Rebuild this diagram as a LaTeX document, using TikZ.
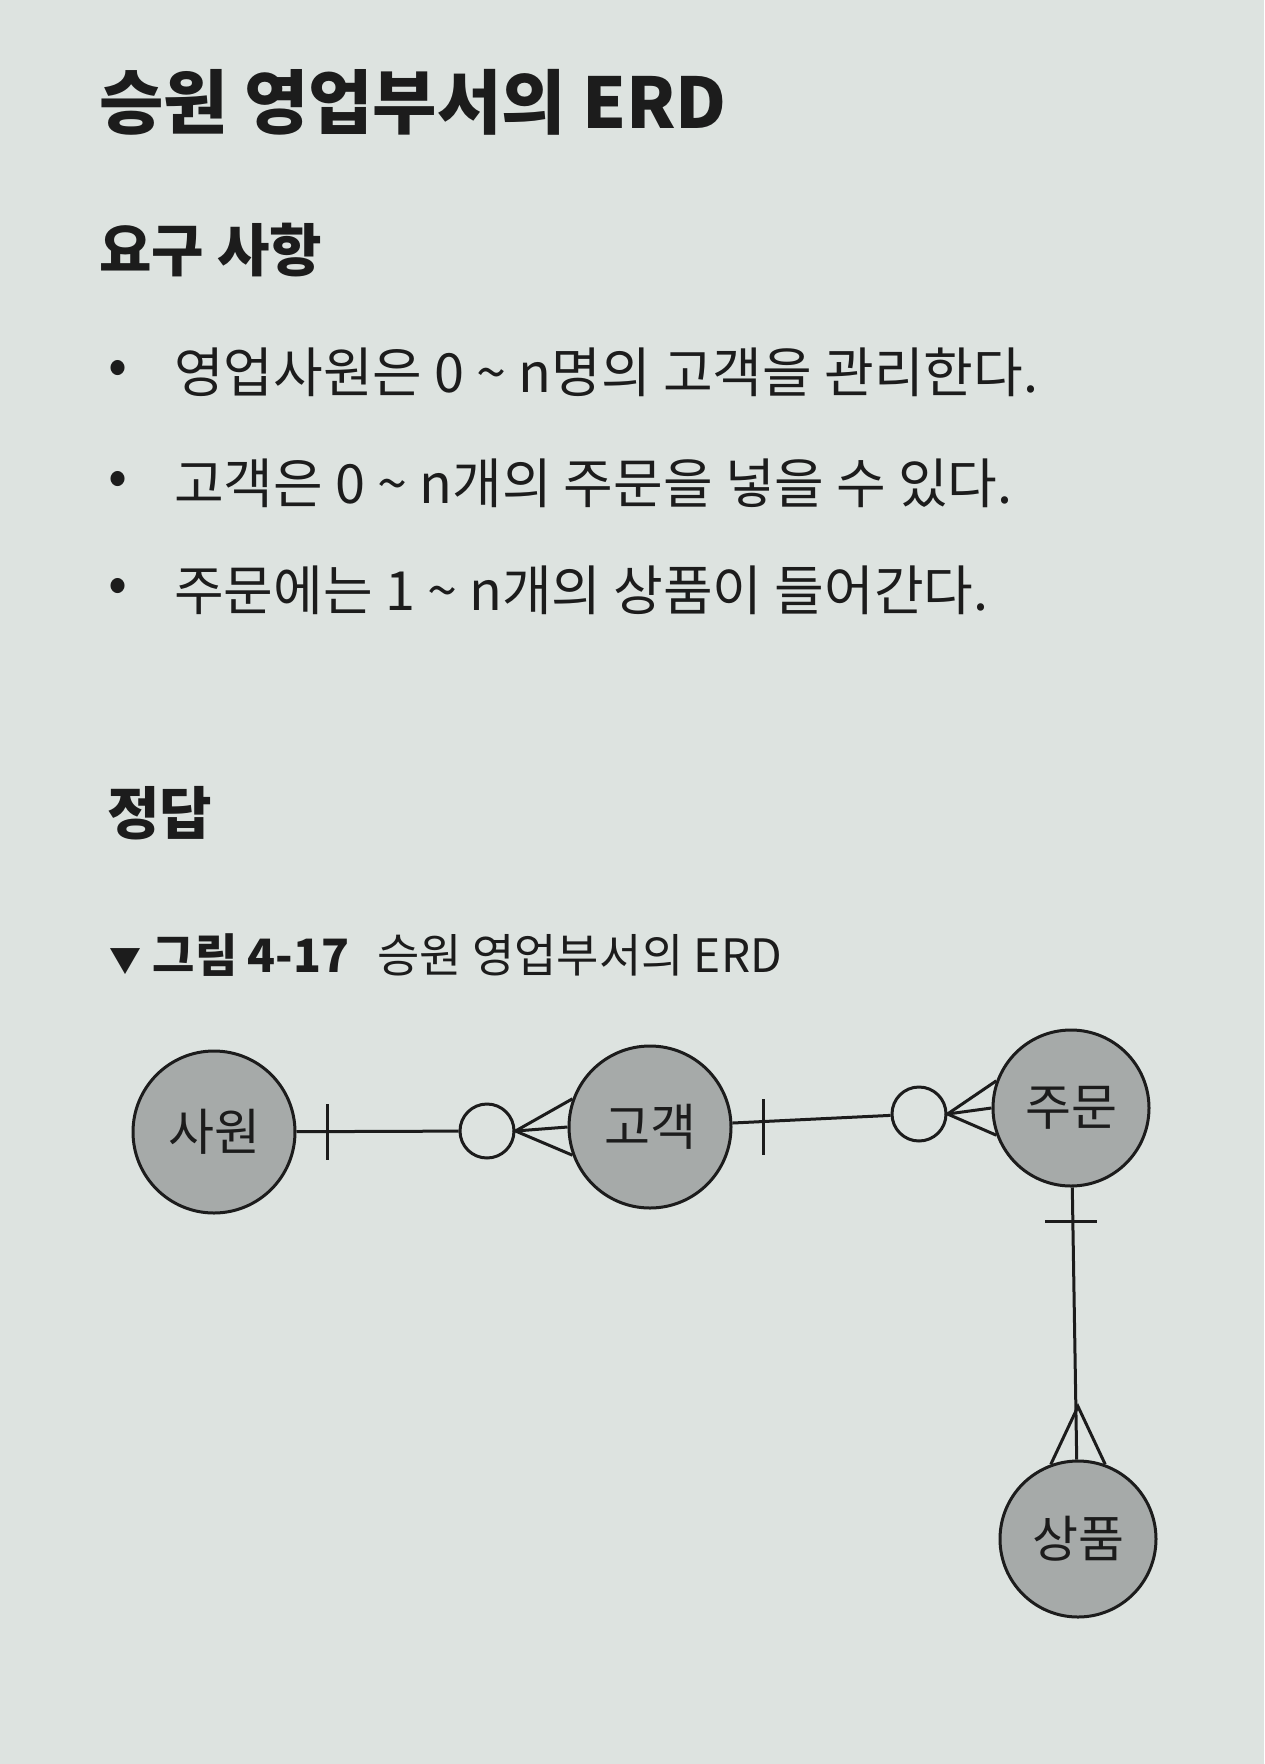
\documentclass[tikz,border=0pt]{standalone}
\usepackage{fontspec}
\setmainfont{Noto Sans CJK KR}
\usepackage{tikz}
\usetikzlibrary{calc,positioning}
\definecolor{paper}{RGB}{221,227,224}
\definecolor{entgray}{RGB}{166,170,169}
\definecolor{ink}{RGB}{28,28,28}

\begin{document}
\begin{tikzpicture}[x=1pt, y=-1pt,
  txt/.style={anchor=west, inner sep=0pt, text=ink},
  head/.style={txt, font=\fontsize{57}{60}\selectfont\bfseries},
  req/.style={txt, font=\fontsize{54}{58}\selectfont},
  dot/.style={inner sep=0pt, text=ink, font=\fontsize{56}{58}\selectfont},
  ent/.style={draw=ink, circle, line width=3pt, fill=entgray, minimum size=162pt,
              inner sep=0pt, text=ink, font=\fontsize{50}{54}\selectfont},
  zero/.style={draw=ink, circle, line width=3pt, fill=paper, minimum size=54pt, inner sep=0pt},
  rel/.style={draw=ink, line width=3pt}]
  \fill[paper] (0,0) rectangle (1264,1764);
  \useasboundingbox (0,0) rectangle (1264,1764);
  \node[txt, font=\fontsize{70}{74}\selectfont\bfseries] (title) at (99,102) {승원 영업부서의 ERD};
  \node[head] (reqhead) at (99,250) {요구 사항};
  \node[req] (req1) at (174,372) {영업사원은 0 \textasciitilde{} n명의 고객을 관리한다.};
  \node[req] (req2) at (174,483) {고객은 0 \textasciitilde{} n개의 주문을 넣을 수 있다.};
  \node[req] (req3) at (174,590) {주문에는 1 \textasciitilde{} n개의 상품이 들어간다.};
  \node[dot, left=46pt of req1] (dot1) {•};
  \node[dot, left=46pt of req2] (dot2) {•};
  \node[dot, left=46pt of req3] (dot3) {•};
  \node[head] (answer) at (107,813) {정답};
  \node[txt, font=\fontsize{46}{50}\selectfont] (caption) at (109,955)
       {{\fontsize{32}{34}\selectfont ▼}\hspace{0.25em}{\bfseries 그림 4-17}\hspace{0.6em}승원 영업부서의 ERD};
  \node[ent] (sawon) at (214,1132) {사원};
  \node[ent] (gogaek) at (650,1127) {고객};
  \node[ent, minimum size=156pt] (jumun) at (1071,1108) {주문};
  \node[ent, minimum size=156pt] (sangpum) at (1078,1539) {상품};
  \node[zero] (z1) at (487,1131) {};
  \node[zero] (z2) at (919,1114) {};
  \draw[rel] (sawon) -- (z1);
  \draw[rel] ($(sawon.east)+(31,-28)$) -- ++(0,56);
  \draw[rel] (z1.east) -- (gogaek.west);
  \draw[rel] (gogaek.160) -- (z1.east) -- (gogaek.200);
  \draw[rel] (gogaek) -- (z2);
  \draw[rel] ($(gogaek.east)+(31,-28)$) -- ++(0,56);
  \draw[rel] (z2.east) -- (jumun.west);
  \draw[rel] (jumun.160) -- (z2.east) -- (jumun.200);
  \draw[rel] (jumun) -- (sangpum);
  \draw[rel] ($(jumun.south)+(-26,34)$) -- ++(52,0);
  \coordinate (foot) at ($(sangpum.north)+(0,-53)$);
  \draw[rel] (sangpum.110) -- (foot) -- (sangpum.70);
\end{tikzpicture}
\end{document}
